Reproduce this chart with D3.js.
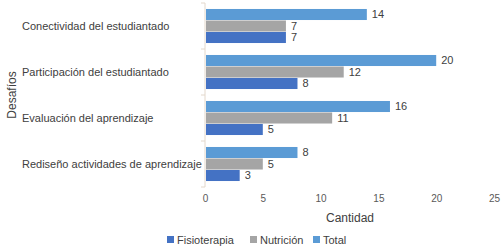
<!DOCTYPE html>
<html>
<head>
<meta charset="utf-8">
<script src="https://cdn.jsdelivr.net/npm/d3@7"></script>
<style>
  body { margin: 0; background: #fff; }
  svg { font-family: "Liberation Sans", Arial, sans-serif; }
</style>
</head>
<body>
<div id="app"></div>
<script>
// data
const categories = [
  "Conectividad del estudiantado",
  "Participación del estudiantado",
  "Evaluación del aprendizaje",
  "Rediseño actividades de aprendizaje"
]
const series = ["Fisioterapia", "Nutrición", "Total"]
const fisioterapia = [7, 8, 5, 3]
const nutricion = [7, 12, 11, 5]
const total = [14, 20, 16, 8]
const xTicks = [0, 5, 10, 15, 20, 25]

const colors = {"Fisioterapia": "#4472c4", "Nutrición": "#a5a5a5", "Total": "#5b9bd5"}

const width = 501
const height = 251

const data = categories.map((c, i) => ({
  category: c,
  values: [
    {key: "Total", value: total[i]},
    {key: "Nutrición", value: nutricion[i]},
    {key: "Fisioterapia", value: fisioterapia[i]}
  ]
}))

const svg = d3.select('#app').append('svg')
  .attr('width', width)
  .attr('height', height)

const x = d3.scaleLinear().domain([0, 25]).range([205, 494])
const y0 = d3.scaleBand().domain(categories).range([3, 187])
  .paddingInner(0.26).paddingOuter(0.13)
const y1 = d3.scaleBand().domain(["Total", "Nutrición", "Fisioterapia"])
  .range([0, y0.bandwidth()]).paddingInner(0.04)

// x tick labels (no gridlines, no axis line)
const xAxis = svg.append('g')
  .attr('transform', `translate(0,193)`)
  .call(d3.axisBottom(x).tickValues(xTicks).tickSize(0).tickPadding(2))
xAxis.select('.domain').remove()
xAxis.selectAll('text').attr('fill', '#595959').style('font-size', '10px')

// category axis line with ticks between groups
const yAxisG = svg.append('g')
const bandEdges = d3.range(categories.length + 1).map(i => 3 + i * y0.step())
yAxisG.append('line')
  .attr('x1', x(0)).attr('x2', x(0))
  .attr('y1', bandEdges[0]).attr('y2', bandEdges[bandEdges.length - 1])
  .attr('stroke', '#e3d8cc').attr('stroke-width', 1)
yAxisG.selectAll('line.tick')
  .data(bandEdges).enter().append('line')
  .attr('class', 'tick')
  .attr('x1', x(0) - 4).attr('x2', x(0))
  .attr('y1', d => d).attr('y2', d => d)
  .attr('stroke', '#e3d8cc')

yAxisG.selectAll('text.cat')
  .data(categories).enter().append('text')
  .attr('class', 'cat')
  .attr('x', 22)
  .attr('y', d => y0(d) + y0.bandwidth() / 2)
  .attr('dy', '0.35em')
  .attr('fill', '#404040')
  .style('font-size', '11px')
  .text(d => d)

// bars
const groups = svg.selectAll('g.group')
  .data(data).enter().append('g')
  .attr('class', 'group')
  .attr('transform', d => `translate(0,${y0(d.category)})`)

groups.selectAll('rect')
  .data(d => d.values).enter().append('rect')
  .attr('x', x(0) + 1)
  .attr('y', d => y1(d.key))
  .attr('width', d => x(d.value) - x(0) - 1)
  .attr('height', y1.bandwidth())
  .attr('fill', d => colors[d.key])

groups.selectAll('text')
  .data(d => d.values).enter().append('text')
  .attr('x', d => x(d.value) + 5)
  .attr('y', d => y1(d.key) + y1.bandwidth() / 2)
  .attr('dy', '0.35em')
  .attr('fill', '#404040')
  .style('font-size', '11px')
  .text(d => d.value)

// axis titles
svg.append('text')
  .attr('x', 350).attr('y', 222)
  .attr('text-anchor', 'middle')
  .attr('fill', '#404040')
  .style('font-size', '12px')
  .text('Cantidad')

svg.append('text')
  .attr('transform', 'translate(16,95) rotate(-90)')
  .attr('text-anchor', 'middle')
  .attr('fill', '#404040')
  .style('font-size', '12px')
  .text('Desafíos')

// legend
const legendX = [167, 250, 313]
const legend = svg.selectAll('g.legend')
  .data(series).enter().append('g')
  .attr('class', 'legend')
  .attr('transform', (d, i) => `translate(${legendX[i]},236)`)
legend.append('rect')
  .attr('width', 7).attr('height', 7)
  .attr('fill', d => colors[d])
legend.append('text')
  .attr('x', 10).attr('y', 4)
  .attr('dy', '0.35em')
  .attr('fill', '#404040')
  .style('font-size', '11px')
  .text(d => d)
</script>
</body>
</html>
